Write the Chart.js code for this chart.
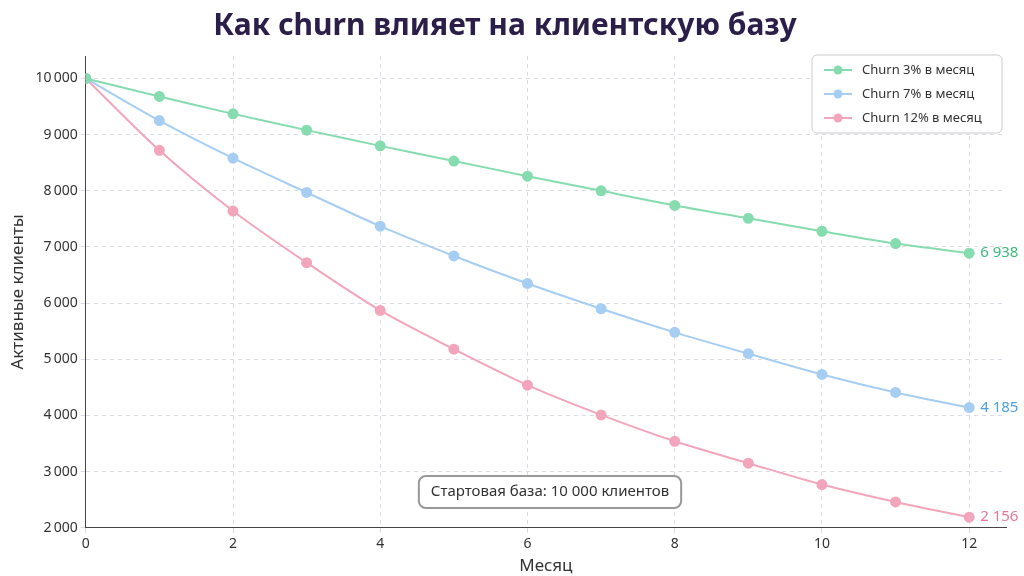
<!DOCTYPE html>
<html><head><meta charset="utf-8">
<script src="https://cdn.jsdelivr.net/npm/chart.js@4"></script>
<style>body{margin:0;background:#fff}#w{width:1024px;height:576px}</style></head>
<body><div id="w"><canvas id="c"></canvas></div>
<script>
const months=[0,1,2,3,4,5,6,7,8,9,10,11,12];
const seriesNames=["Churn 3% в месяц","Churn 7% в месяц","Churn 12% в месяц"];
const churn3=[10000,9680,9370,9080,8800,8530,8260,8000,7740,7510,7280,7060,6890];
const churn7=[10000,9250,8580,7970,7370,6840,6350,5900,5480,5100,4730,4410,4140];
const churn12=[10000,8720,7640,6720,5870,5180,4540,4010,3540,3150,2770,2460,2190];
const endLabels=["6 938","4 185","2 156"];
const yTicks=[2000,3000,4000,5000,6000,7000,8000,9000,10000];
const xTicks=[0,2,4,6,8,10,12];
const lineColors=["#86dcae","#a6cdf2","#f2a5bb"];
const textColors=["#3dbb7a","#4c9fe0","#e8789a"];
const all=[churn3,churn7,churn12];
const fmt=v=>String(v).replace(/\B(?=(\d{3})+(?!\d))/g,"\u202F");
const deco={id:'deco',afterDraw(ch){
 const c=ch.ctx,x=ch.scales.x,y=ch.scales.y;
 c.save();
 c.font='15px "Noto Sans"';c.textBaseline='middle';c.textAlign='left';
 all.forEach((d,i)=>{c.fillStyle=textColors[i];c.fillText(endLabels[i],x.getPixelForValue(12)+11,y.getPixelForValue(d[12]));});
 const lx=812,ly=55,lw=190,lh=78;
 c.fillStyle='rgba(255,255,255,0.95)';c.strokeStyle='#ccc';c.lineWidth=1;
 c.beginPath();c.roundRect(lx,ly,lw,lh,5);c.fill();c.stroke();
 c.font='13px "Noto Sans"';
 seriesNames.forEach((n,i)=>{const yy=ly+15+i*24;
  c.strokeStyle=lineColors[i];c.lineWidth=2;c.beginPath();c.moveTo(lx+12,yy);c.lineTo(lx+40,yy);c.stroke();
  c.fillStyle=lineColors[i];c.beginPath();c.arc(lx+26,yy,4.5,0,Math.PI*2);c.fill();
  c.fillStyle='#333';c.fillText(n,lx+50,yy);});
 const t='Стартовая база: 10 000 клиентов';c.font='15px "Noto Sans"';
 const tw=c.measureText(t).width,bx=550-tw/2-12,by=476;
 c.fillStyle='rgba(255,255,255,0.95)';c.strokeStyle='#999';c.beginPath();c.roundRect(bx,by,tw+24,32,7);c.fill();c.stroke();
 c.fillStyle='#333';c.textAlign='center';c.fillText(t,550,by+16);
 c.restore();}};
new Chart(document.getElementById('c'),{type:'line',
 data:{datasets:all.map((d,i)=>({label:seriesNames[i],data:months.map((m,j)=>({x:m,y:d[j]})),borderColor:lineColors[i],backgroundColor:lineColors[i],borderWidth:2,pointRadius:4.5,pointHoverRadius:4.5,tension:0.3}))},
 options:{responsive:true,maintainAspectRatio:false,animation:false,
  layout:{padding:{left:4,right:18,top:4,bottom:0}},
  plugins:{legend:{display:false},tooltip:{enabled:false},
   title:{display:true,text:'Как churn влияет на клиентскую базу',color:'#2b1f4a',font:{family:'Noto Sans',size:30,weight:'bold'},padding:{top:4,bottom:12}}},
  scales:{
   x:{type:'linear',min:0,max:12.5,afterBuildTicks(a){a.ticks=xTicks.map(v=>({value:v}));},
    grid:{color:'#dcdce8',tickLength:5},border:{color:'#444',dash:[4,4]},
    ticks:{color:'#333',font:{family:'Noto Sans',size:14}},
    title:{display:true,text:'Месяц',color:'#333',font:{family:'Noto Sans',size:17},padding:{top:0,bottom:0}}},
   y:{min:2000,max:10400,afterBuildTicks(a){a.ticks=yTicks.map(v=>({value:v}));},
    grid:{color:'#dcdce8',tickLength:5},border:{color:'#444',dash:[4,4]},
    ticks:{color:'#333',font:{family:'Noto Sans',size:14},callback:v=>fmt(v)},
    title:{display:true,text:'Активные клиенты',color:'#333',font:{family:'Noto Sans',size:17}}}}},
 plugins:[deco]});
</script></body></html>
